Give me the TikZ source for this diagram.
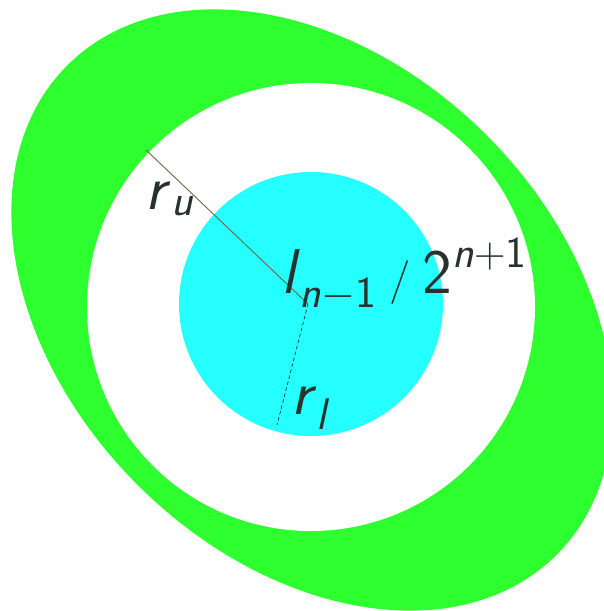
\documentclass[tikz,border=0pt]{standalone}
\usepackage{amsmath}
\usepackage{xcolor}
\usetikzlibrary{calc}
\definecolor{ringgreen}{HTML}{2EFF2E}
\definecolor{diskcyan}{HTML}{26FFFF}
\definecolor{radline}{HTML}{6E6248}
\definecolor{labeltext}{HTML}{27312E}
\newcommand{\sfv}[1]{\textsf{\textit{#1}}}

\begin{document}
\begin{tikzpicture}[
    x=0.02cm, y=-0.02cm,
    every node/.style={font=\fontsize{36}{42}\selectfont, text=labeltext, inner sep=1pt},
    ring/.style={fill=ringgreen},
    hole/.style={fill=white},
    disk/.style={fill=diskcyan},
    upper/.style={draw=radline, line width=0.5pt},
    lower/.style={draw=labeltext, line width=0.4pt, dash pattern=on 2pt off 1.5pt}
]
\useasboundingbox (0,0) rectangle (603,611);

% Regions
\fill[ring] (312,310) ellipse [x radius=346, y radius=247, rotate=-45];
\fill[hole] (311,307) circle [radius=224];
\fill[disk] (311,304) circle [radius=132];

% Radii
\coordinate (c) at (308,304);
\coordinate (ru) at (146,150);
\coordinate (rl) at (277,425);

\draw[upper] (ru) -- (c);
\draw[lower] (c) -- (rl);

% Labels
\node (rulab) at (170,199) {$\sfv{r}_{\sfv{u}}$};
\node (rllab) at (311,408) {$\sfv{r}_{\sfv{l}}$};
\node[anchor=base west] (len) at (279,293) {$\sfv{l}_{\sfv{n}-\textsf{1}}\;/\;\textsf{2}^{\sfv{n}+\textsf{1}}$};

\end{tikzpicture}
\end{document}
